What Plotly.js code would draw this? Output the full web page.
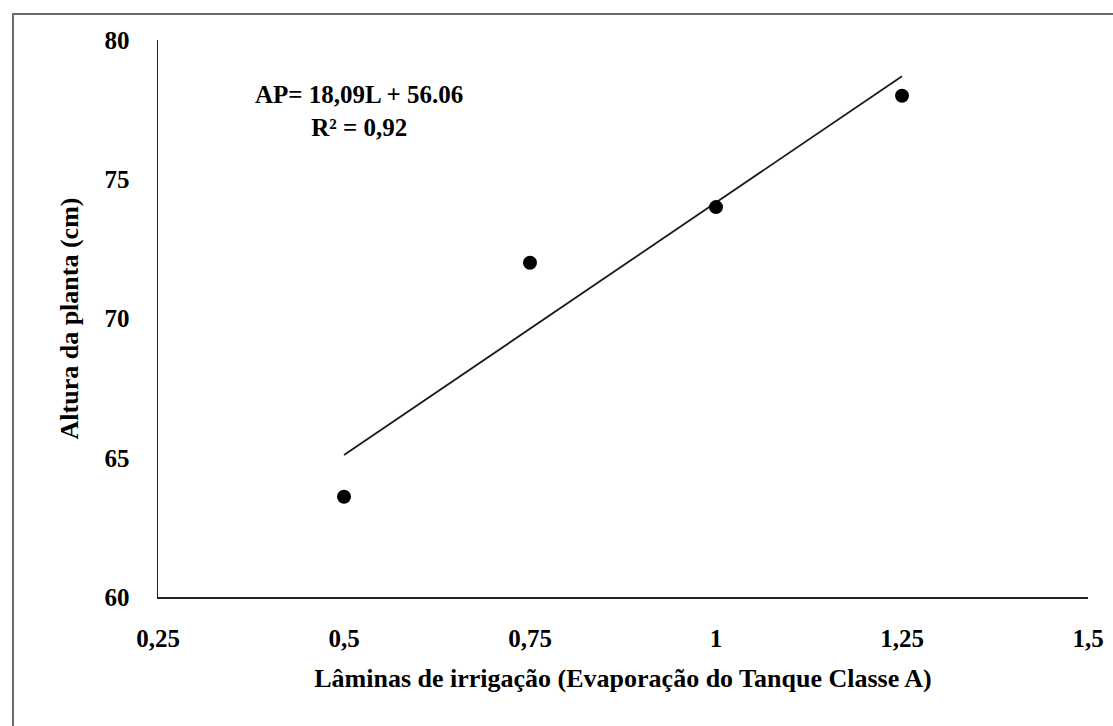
<!DOCTYPE html>
<html>
<head>
<meta charset="utf-8">
<script src="https://cdn.plot.ly/plotly-3.0.1.min.js"></script>
<style>
  html, body { margin: 0; padding: 0; background: #fff; overflow: hidden; }
  #wrap { position: relative; width: 1113px; height: 726px; overflow: hidden; }
  #frame { position: absolute; left: 12px; top: 13px; width: 1099px; height: 711px;
           border-left: 2px solid #6a6a6a; border-top: 2px solid #6a6a6a; pointer-events: none; }
  #chart { position: absolute; left: 0; top: 0; width: 1113px; height: 726px; }
</style>
</head>
<body>
<div id="wrap">
  <div id="chart"></div>
  <div id="frame"></div>
</div>
<script>
// Observed data
const laminas = [0.5, 0.75, 1.0, 1.25];
const altura = [63.6, 72.0, 74.0, 78.0];

// Fitted trend line endpoints
const trendX = [0.5, 1.25];
const trendY = [65.1, 78.7];

const xTicks = [0.25, 0.5, 0.75, 1.0, 1.25, 1.5];
const xTickLabels = ['0,25', '0,5', '0,75', '1', '1,25', '1,5'];
const yTicks = [60, 65, 70, 75, 80];
const yTickLabels = ['60', '65', '70', '75', '80'];

const equationText = 'AP= 18,09L + 56.06<br>R² = 0,92';
const xTitle = 'Lâminas de irrigação (Evaporação do Tanque Classe A)';
const yTitle = 'Altura da planta (cm)';

const fontFam = 'Times New Roman, Liberation Serif, serif';

const traces = [
  {
    x: trendX, y: trendY, type: 'scatter', mode: 'lines',
    line: { color: '#1a1a1a', width: 1.8 }, hoverinfo: 'skip'
  },
  {
    x: laminas, y: altura, type: 'scatter', mode: 'markers',
    marker: { color: '#000', size: 14 }
  }
];

const layout = {
  width: 1113, height: 726,
  margin: { l: 158, r: 25, t: 40, b: 129 },
  paper_bgcolor: '#fff', plot_bgcolor: '#fff',
  showlegend: false,
  font: { family: fontFam, color: '#000', size: 24, weight: 'bold' },
  xaxis: {
    range: [0.25, 1.5],
    tickvals: xTicks, ticktext: xTickLabels,
    showgrid: false, zeroline: false,
    showline: true, linecolor: '#222', linewidth: 1.5,
    ticks: '', ticklabelstandoff: 18,
    tickfont: { family: fontFam, size: 25, color: '#000', weight: 'bold' },
    title: { text: xTitle, standoff: 18, font: { family: fontFam, size: 26, color: '#000', weight: 'bold' } }
  },
  yaxis: {
    range: [60, 80],
    tickvals: yTicks, ticktext: yTickLabels,
    showgrid: false, zeroline: false,
    showline: true, linecolor: '#222', linewidth: 1.5,
    ticks: '', ticklabelstandoff: 22,
    tickfont: { family: fontFam, size: 25, color: '#000', weight: 'bold' },
    title: { text: yTitle, standoff: 18, font: { family: fontFam, size: 26, color: '#000', weight: 'bold' } }
  },
  annotations: [
    {
      x: 0.52, y: 77.45, xref: 'x', yref: 'y',
      text: equationText, showarrow: false, align: 'center',
      font: { family: fontFam, size: 25, color: '#000', weight: 'bold' }
    }
  ]
};

Plotly.newPlot('chart', traces, layout, { displayModeBar: false, staticPlot: true });
</script>
</body>
</html>
